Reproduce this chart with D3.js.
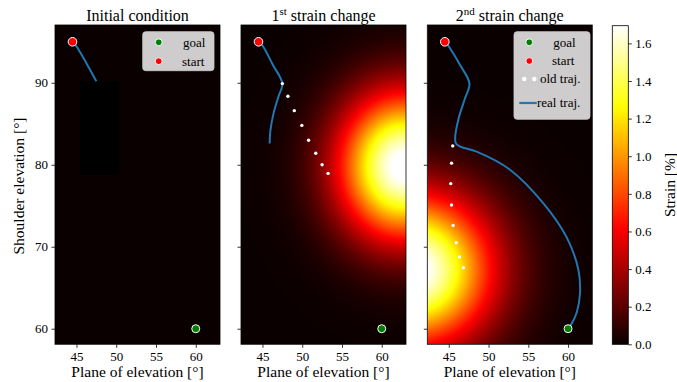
<!DOCTYPE html>
<html>
<head>
<meta charset="utf-8">
<script src="https://cdn.jsdelivr.net/npm/d3@7/dist/d3.min.js"></script>
<style>
  body { margin: 0; background: #fff; }
  text { font-family: "Liberation Serif", "DejaVu Serif", serif; fill: #000; }
</style>
</head>
<body>
<svg id="chart" width="677" height="382"></svg>
<script>
// values
const titles = [['Initial condition', ''], ['1', 'st'], ['2', 'nd']];
const xTicks = [45, 50, 55, 60];
const yTicks = [60, 70, 80, 90];
const cbarTicks = [0, 0.2, 0.4, 0.6, 0.8, 1.0, 1.2, 1.4, 1.6];
const strainMax = 1.694;

const startPt = [44.5, 95];
const goalPt = [60, 60];

// strain hot spots per panel: centre (deg), peak (%), spread in x / y (deg)
const strainPeaks = [
  [],
  [{x: 62.7, y: 79.8, amp: 1.75, sx: 5.6, sy: 6.2}],
  [{x: 40.6, y: 67.2, amp: 1.75, sx: 6.8, sy: 6.4}]
];
// dark block in the first panel [x0, x1, y0, y1]
const blockedArea = [45.4, 50.4, 78.8, 90.2];

const traj1 = [[44.6, 95], [45.1, 94.3], [46.3, 92.3], [47.5, 90.2]];
const traj2 = [[44.6, 95], [45.1, 94.4], [46.3, 92.2], [47.5, 89.9], [47.0, 88.3],
  [46.4, 86.3], [46.0, 84.2], [45.9, 82.6]];
const traj3 = [[44.6, 95], [45.1, 94.3], [46.4, 92.2], [47.6, 89.9], [47.0, 88.0],
  [46.2, 85.5], [45.8, 83.3], [45.9, 82.6], [46.5, 82.2], [48.5, 81.6], [52.7, 79.4],
  [56.9, 75.3], [59.8, 71.2], [61.3, 67.2], [61.5, 64.3], [61.1, 62.0], [60.5, 60.7], [60, 60]];
const trajs = [traj1, traj2, traj3];

const oldTraj2 = [[47.5, 89.9], [48.2, 88.35], [49.0, 86.6], [49.95, 84.8], [50.8, 83.0],
  [51.7, 81.4], [52.5, 80.0], [53.25, 78.95]];
const oldTraj3 = [[45.5, 82.3], [45.35, 80.2], [45.25, 77.7], [45.35, 75.1], [45.55, 72.6],
  [45.95, 70.5], [46.35, 68.75], [46.85, 67.45]];
const oldTrajs = [[], oldTraj2, oldTraj3];

// layout
const panelLeft = [55, 241, 427.3];
const plotTop = 25, pw = 165, ph = 319.3;
const svg = d3.select('#chart');

const x = d3.scaleLinear().domain([42.3, 63.05]).range([0, pw]);
const y = d3.scaleLinear().domain([58.1, 97.05]).range([ph, 0]);

// matplotlib "hot"
function hot(t) {
  t = Math.max(0, Math.min(1, t));
  const a = 0.365079, b = 0.746032;
  const r = t < a ? 0.0416 + (1 - 0.0416) * t / a : 1;
  const g = t < a ? 0 : (t < b ? (t - a) / (b - a) : 1);
  const bl = t < b ? 0 : (t - b) / (1 - b);
  return [Math.round(r * 255), Math.round(g * 255), Math.round(bl * 255)];
}
const color = v => hot(v / strainMax);

function strainImage(peaks) {
  const w = Math.round(pw), h = Math.round(ph);
  const cv = document.createElement('canvas');
  cv.width = w; cv.height = h;
  const ctx = cv.getContext('2d');
  const img = ctx.createImageData(w, h);
  for (let j = 0; j < h; j++) {
    const yv = y.invert((j + 0.5) * ph / h);
    for (let i = 0; i < w; i++) {
      const xv = x.invert((i + 0.5) * pw / w);
      let v = 0;
      peaks.forEach(p => {
        v += p.amp * Math.exp(-((xv - p.x) ** 2) / (2 * p.sx * p.sx) - ((yv - p.y) ** 2) / (2 * p.sy * p.sy));
      });
      const c = color(v);
      const k = (j * w + i) * 4;
      img.data[k] = c[0]; img.data[k + 1] = c[1]; img.data[k + 2] = c[2]; img.data[k + 3] = 255;
    }
  }
  ctx.putImageData(img, 0, 0);
  return cv.toDataURL();
}

const line = d3.line().x(d => x(d[0])).y(d => y(d[1])).curve(d3.curveCatmullRom.alpha(0.5));

svg.append('defs').append('clipPath').attr('id', 'clip')
  .append('rect').attr('width', pw).attr('height', ph);

panelLeft.forEach((left, k) => {
  const g = svg.append('g').attr('transform', `translate(${left},${plotTop})`);
  const plot = g.append('g').attr('clip-path', 'url(#clip)');

  plot.append('image')
    .attr('width', pw).attr('height', ph)
    .attr('preserveAspectRatio', 'none')
    .attr('href', strainImage(strainPeaks[k]));

  if (k === 0) {
    plot.append('rect')
      .attr('x', x(blockedArea[0])).attr('y', y(blockedArea[3]))
      .attr('width', x(blockedArea[1]) - x(blockedArea[0]))
      .attr('height', y(blockedArea[2]) - y(blockedArea[3]))
      .attr('fill', '#000');
  }

  plot.append('path')
    .attr('d', line(trajs[k]))
    .attr('fill', 'none')
    .attr('stroke', '#1f77b4')
    .attr('stroke-width', 2);

  plot.selectAll('circle.old')
    .data(oldTrajs[k])
    .enter().append('circle')
    .attr('class', 'old')
    .attr('cx', d => x(d[0])).attr('cy', d => y(d[1]))
    .attr('r', 1.7).attr('fill', '#fff');

  g.append('circle')
    .attr('cx', x(startPt[0])).attr('cy', y(startPt[1])).attr('r', 4.3)
    .attr('fill', '#ff0000').attr('stroke', '#fff').attr('stroke-width', 1);
  g.append('circle')
    .attr('cx', x(goalPt[0])).attr('cy', y(goalPt[1])).attr('r', 4)
    .attr('fill', '#008000').attr('stroke', '#fff').attr('stroke-width', 1);

  // axes
  const xa = g.append('g').attr('transform', `translate(0,${ph})`)
    .call(d3.axisBottom(x).tickValues(xTicks).tickSize(3.5).tickPadding(3.5).tickFormat(d3.format('d')));
  const ya = g.append('g')
    .call(d3.axisLeft(y).tickValues(yTicks).tickSize(3.5).tickPadding(3.5)
      .tickFormat(k === 0 ? d3.format('d') : () => ''));
  [xa, ya].forEach(a => {
    a.select('.domain').remove();
    a.selectAll('line').attr('stroke', '#000').attr('stroke-width', 0.8);
    a.selectAll('text').style('font-size', '13px').style('font-family', '"Liberation Serif", serif');
  });

  g.append('rect').attr('width', pw).attr('height', ph)
    .attr('fill', 'none').attr('stroke', '#000').attr('stroke-width', 0.8);

  // title
  const t = g.append('text').attr('x', pw / 2).attr('y', -4.5)
    .attr('text-anchor', 'middle').style('font-size', '16px');
  if (titles[k][1] === '') {
    t.text(titles[k][0]);
  } else {
    t.append('tspan').text(titles[k][0]);
    t.append('tspan').text(titles[k][1]).attr('dy', -5.5).style('font-size', '11px');
    t.append('tspan').text(' strain change').attr('dy', 5.5);
  }

  g.append('text').attr('x', pw / 2).attr('y', 352)
    .attr('text-anchor', 'middle').style('font-size', '15.5px')
    .text('Plane of elevation [°]');
});

svg.append('text')
  .attr('transform', `translate(24,186) rotate(-90)`)
  .attr('text-anchor', 'middle').style('font-size', '15.5px')
  .text('Shoulder elevation [°]');

// legends
function legend(left, box, rows) {
  const g = svg.append('g').attr('transform', `translate(${left},${plotTop})`);
  g.append('rect')
    .attr('x', box[0]).attr('y', box[1]).attr('width', box[2]).attr('height', box[3])
    .attr('rx', 3).attr('fill', '#fff').attr('fill-opacity', 0.8)
    .attr('stroke', '#ccc').attr('stroke-opacity', 0.8).attr('stroke-width', 1);
  rows.forEach(r => {
    if (r.kind === 'dot') {
      g.append('circle').attr('cx', r.hx).attr('cy', r.y).attr('r', 3.4)
        .attr('fill', r.fill).attr('stroke', '#fff').attr('stroke-width', 0.9);
    } else if (r.kind === 'old') {
      [r.hx - 5, r.hx + 5].forEach(cx => g.append('circle').attr('cx', cx).attr('cy', r.y)
        .attr('r', 2.3).attr('fill', '#fff'));
    } else {
      g.append('line').attr('x1', r.hx - 9).attr('x2', r.hx + 8.5)
        .attr('y1', r.y).attr('y2', r.y)
        .attr('stroke', '#1f77b4').attr('stroke-width', 2.2);
    }
    g.append('text').attr('x', r.tx).attr('y', r.y + 4.3)
      .style('font-size', '13px').text(r.label);
  });
}

legend(panelLeft[0], [87.7, 6.7, 71.3, 39], [
  {kind: 'dot', fill: '#008000', hx: 103.7, tx: 128, y: 17.3, label: 'goal'},
  {kind: 'dot', fill: '#ff0000', hx: 103.7, tx: 127, y: 36.2, label: 'start'}
]);
legend(panelLeft[2], [86.7, 6.7, 76, 87.6], [
  {kind: 'dot', fill: '#008000', hx: 102, tx: 126, y: 17.3, label: 'goal'},
  {kind: 'dot', fill: '#ff0000', hx: 102, tx: 124.7, y: 36, label: 'start'},
  {kind: 'old', hx: 102, tx: 112.7, y: 54, label: 'old traj.'},
  {kind: 'line', hx: 101, tx: 109.7, y: 78, label: 'real traj.'}
]);

// colorbar
const cbX = 612.3, cbW = 16, cbTop = 25.7, cbH = 344.3 - 25.7;
const cy = d3.scaleLinear().domain([0, strainMax]).range([cbH, 0]);
const grad = svg.select('defs').append('linearGradient').attr('id', 'hotgrad')
  .attr('x1', 0).attr('y1', 1).attr('x2', 0).attr('y2', 0);
d3.range(0, 1.0001, 0.02).forEach(t => {
  const c = hot(t);
  grad.append('stop').attr('offset', t).attr('stop-color', `rgb(${c[0]},${c[1]},${c[2]})`);
});
const cb = svg.append('g').attr('transform', `translate(${cbX},${cbTop})`);
cb.append('rect').attr('width', cbW).attr('height', cbH).attr('fill', 'url(#hotgrad)');
const ca = cb.append('g').attr('transform', `translate(${cbW},0)`)
  .call(d3.axisRight(cy).tickValues(cbarTicks).tickSize(3.5).tickPadding(3.5).tickFormat(d3.format('.1f')));
ca.select('.domain').remove();
ca.selectAll('line').attr('stroke', '#000').attr('stroke-width', 0.8);
ca.selectAll('text').style('font-size', '13px').style('font-family', '"Liberation Serif", serif');
cb.append('rect').attr('width', cbW).attr('height', cbH)
  .attr('fill', 'none').attr('stroke', '#000').attr('stroke-width', 0.8);

svg.append('text')
  .attr('transform', `translate(675,${cbTop + cbH / 2}) rotate(-90)`)
  .attr('text-anchor', 'middle').style('font-size', '15.5px')
  .text('Strain [%]');
</script>
</body>
</html>
